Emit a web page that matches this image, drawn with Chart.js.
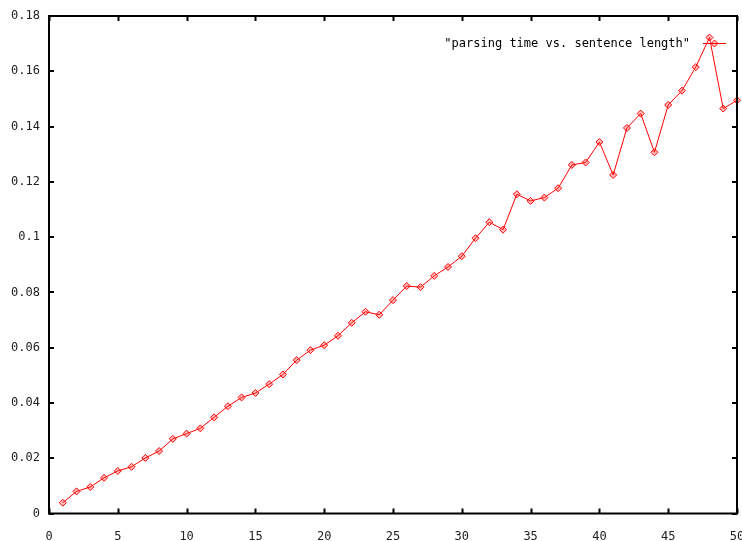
<!DOCTYPE html>
<html>
<head>
<meta charset="utf-8">
<script src="https://cdn.jsdelivr.net/npm/chart.js@4/dist/chart.umd.min.js"></script>
<style>
html,body{margin:0;padding:0;background:#fff;}
#wrap{width:742px;height:541px;position:relative;}
</style>
</head>
<body>
<div id="wrap"><canvas id="c" width="742" height="541"></canvas></div>
<script>
const seriesLabel = '"parsing time vs. sentence length"';
const sentenceLength = [1,2,3,4,5,6,7,8,9,10,11,12,13,14,15,16,17,18,19,20,21,22,23,24,25,26,27,28,29,30,31,32,33,34,35,36,37,38,39,40,41,42,43,44,45,46,47,48,49,50];
const parsingTime = [0.0039,0.0080,0.0096,0.0129,0.0154,0.0169,0.0201,0.0226,0.0270,0.0289,
  0.0308,0.0348,0.0388,0.0420,0.0436,0.0468,0.0503,0.0555,0.0591,0.0609,
  0.0643,0.0690,0.0730,0.0719,0.0772,0.0823,0.0819,0.0860,0.0892,0.0931,
  0.0996,0.1054,0.1027,0.1155,0.1131,0.1143,0.1177,0.1261,0.1270,0.1344,
  0.1225,0.1395,0.1447,0.1307,0.1478,0.1530,0.1615,0.1722,0.1465,0.1495];
const xTickLabels = ['0','5','10','15','20','25','30','35','40','45','50'];
const yTickLabels = ['0','0.02','0.04','0.06','0.08','0.1','0.12','0.14','0.16','0.18'];

const tickFont = {family: '"DejaVu Sans Mono", monospace', size: 12};

const framePlugin = {
  id: 'frame',
  afterDatasetsDraw(chart) {
    const ctx = chart.ctx, a = chart.chartArea;
    const xs = chart.scales.x, ys = chart.scales.y;
    ctx.save();
    ctx.strokeStyle = '#000';
    ctx.lineWidth = 2;
    const tl = 5;
    ctx.beginPath();
    xs.ticks.forEach(t => {
      const px = Math.round(xs.getPixelForValue(t.value)) + 0.5;
      ctx.moveTo(px, a.bottom); ctx.lineTo(px, a.bottom - tl);
      ctx.moveTo(px, a.top); ctx.lineTo(px, a.top + tl);
    });
    ys.ticks.forEach(t => {
      const py = Math.round(ys.getPixelForValue(t.value));
      ctx.moveTo(a.left, py); ctx.lineTo(a.left + tl, py);
      ctx.moveTo(a.right, py); ctx.lineTo(a.right - tl, py);
    });
    ctx.stroke();
    ctx.strokeRect(a.left, a.top, a.right - a.left, a.bottom - a.top);
    // key
    const ds = chart.data.datasets[0];
    const ky = 43.5;
    ctx.font = '12px "DejaVu Sans Mono", monospace';
    ctx.fillStyle = '#000';
    ctx.textAlign = 'right';
    ctx.textBaseline = 'middle';
    ctx.fillText(ds.label, 690, ky);
    ctx.strokeStyle = ds.borderColor;
    ctx.lineWidth = 1;
    ctx.beginPath();
    ctx.moveTo(703, ky); ctx.lineTo(726, ky);
    ctx.stroke();
    ctx.beginPath();
    ctx.moveTo(714.5, ky - 3.5); ctx.lineTo(718, ky); ctx.lineTo(714.5, ky + 3.5); ctx.lineTo(711, ky); ctx.closePath();
    ctx.fillStyle = 'rgba(255,0,0,0.25)';
    ctx.fill();
    ctx.stroke();
    ctx.restore();
  }
};

new Chart(document.getElementById('c'), {
  type: 'line',
  data: {
    datasets: [{
      label: seriesLabel,
      data: sentenceLength.map((x, i) => ({x: x, y: parsingTime[i]})),
      borderColor: '#ff0000',
      borderWidth: 1,
      backgroundColor: 'rgba(255,0,0,0.25)',
      pointStyle: 'rectRot',
      pointRadius: 3.5,
      pointBorderWidth: 1,
      pointBorderColor: '#ff0000',
      pointBackgroundColor: 'rgba(255,0,0,0.25)',
      tension: 0,
      clip: false
    }]
  },
  options: {
    responsive: false,
    animation: false,
    events: [],
    layout: {padding: {top: 16, right: 5, left: 0, bottom: 0}},
    plugins: {legend: {display: false}, tooltip: {enabled: false}, title: {display: false}},
    scales: {
      x: {
        type: 'linear', min: 0, max: 50,
        afterFit(s) { s.height = 27.5; s.paddingLeft = 0; s.paddingRight = 0; },
        afterBuildTicks(s) { s.ticks = xTickLabels.map(l => ({value: parseFloat(l)})); },
        ticks: {
          autoSkip: false, maxRotation: 0, padding: 16,
          color: '#222', font: tickFont,
          callback: (v, i) => xTickLabels[i]
        },
        grid: {display: false, drawTicks: false},
        border: {display: false}
      },
      y: {
        type: 'linear', min: 0, max: 0.18,
        afterFit(s) { s.width = 49; s.paddingTop = 0; s.paddingBottom = 0; },
        afterBuildTicks(s) { s.ticks = yTickLabels.map(l => ({value: parseFloat(l)})); },
        ticks: {
          autoSkip: false, padding: 9,
          color: '#222', font: tickFont,
          callback: (v, i) => yTickLabels[i]
        },
        grid: {display: false, drawTicks: false},
        border: {display: false}
      }
    }
  },
  plugins: [framePlugin]
});
</script>
</body>
</html>
